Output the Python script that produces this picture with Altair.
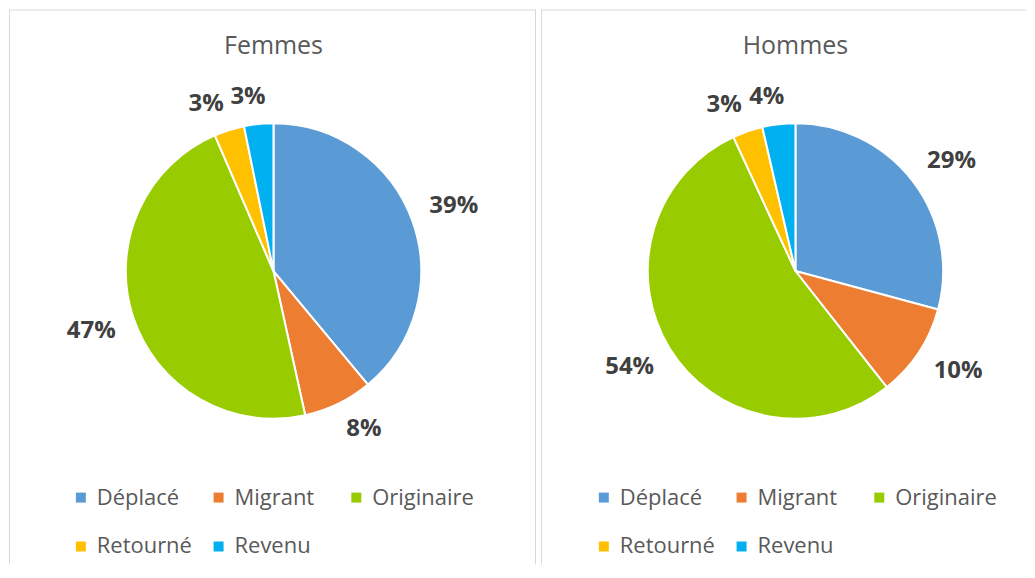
import altair as alt
import pandas as pd

categories = ["Déplacé", "Migrant", "Originaire", "Retourné", "Revenu"]
femmes = [39.0, 7.6, 47.0, 3.3, 3.2]
hommes = [29.2, 10.2, 53.7, 3.3, 3.6]
titles = ["Femmes", "Hommes"]
colors = ["#5B9BD5", "#ED7D31", "#99CC00", "#FFC000", "#00B0F0"]

FONT = "Open Sans"
CY = 262
H = 556
BORDER = "#d9d9d9"


def frame(w, right_edge):
    one = alt.Chart(pd.DataFrame({"k": [0]}))
    parts = [
        one.mark_rule(color=BORDER, strokeWidth=1).encode(
            x=alt.value(0), x2=alt.value(w), y=alt.value(0.5)
        ),
        one.mark_rule(color=BORDER, strokeWidth=1).encode(
            x=alt.value(0.5), y=alt.value(0), y2=alt.value(H)
        ),
    ]
    if right_edge:
        parts.append(
            one.mark_rule(color=BORDER, strokeWidth=1).encode(
                x=alt.value(w - 0.5), y=alt.value(0), y2=alt.value(H)
            )
        )
    return parts


def panel(values, title, w, cx, legend_x, right_edge):
    df = pd.DataFrame({"cat": categories, "value": values, "idx": list(range(len(categories)))})
    base = (
        alt.Chart(df)
        .transform_joinaggregate(total="sum(value)")
        .transform_window(cum="sum(value)", sort=[alt.SortField("idx")], frame=[None, 0])
        .transform_calculate(
            mid="(datum.cum - datum.value/2)/datum.total*2*PI",
            label="round(datum.value/datum.total*100) + '%'",
        )
        .transform_calculate(
            hw="(13.7*length(datum.label) + 8)/2",
            sx="clamp(sin(datum.mid)*5, -1, 1)",
            sy="clamp(cos(datum.mid)*5, -1, 1)",
        )
        .transform_calculate(
            lx=f"{cx} + 166*sin(datum.mid) + datum.hw*datum.sx",
            ly=f"{CY} - 166*cos(datum.mid) - 9*datum.sy",
        )
    )
    arc = base.mark_arc(outerRadius=148, stroke="white", strokeWidth=2).encode(
        theta=alt.Theta("value:Q", stack=True),
        color=alt.Color(
            "cat:N",
            sort=categories,
            scale=alt.Scale(domain=categories, range=colors),
            legend=alt.Legend(
                orient="none",
                legendX=legend_x,
                legendY=478,
                direction="horizontal",
                columns=3,
                gridAlign="all",
                title=None,
                symbolType="square",
                symbolSize=100,
                symbolStrokeWidth=0,
                labelFont=FONT,
                labelFontSize=22,
                labelColor="#595959",
                labelOffset=5,
                labelLimit=300,
                columnPadding=9,
                rowPadding=27,
                padding=0,
            ),
        ),
        order=alt.Order("idx:Q"),
        x=alt.value(cx),
        y=alt.value(CY),
    )
    text = base.mark_text(
        font=FONT, fontWeight="bold", fontSize=24, color="#404040", baseline="middle"
    ).encode(
        x=alt.X("lx:Q", scale=None),
        y=alt.Y("ly:Q", scale=None),
        text="label:N",
    )
    ttl = alt.Chart(pd.DataFrame({"t": [title]})).mark_text(
        font=FONT, fontSize=25, color="#595959"
    ).encode(text="t:N", x=alt.value(cx), y=alt.value(37))
    return alt.layer(*frame(w, right_edge), arc, text, ttl).properties(width=w, height=H)


left = panel(femmes, titles[0], 528, 265, 61, True)
right = panel(hommes, titles[1], 486, 255, 52, False)

chart = (
    alt.hconcat(left, right, spacing=3)
    .resolve_scale(color="independent")
    .properties(padding=0)
    .configure_view(stroke=None)
)

chart.save("out.html", embed_options={"renderer": "svg", "actions": False})
